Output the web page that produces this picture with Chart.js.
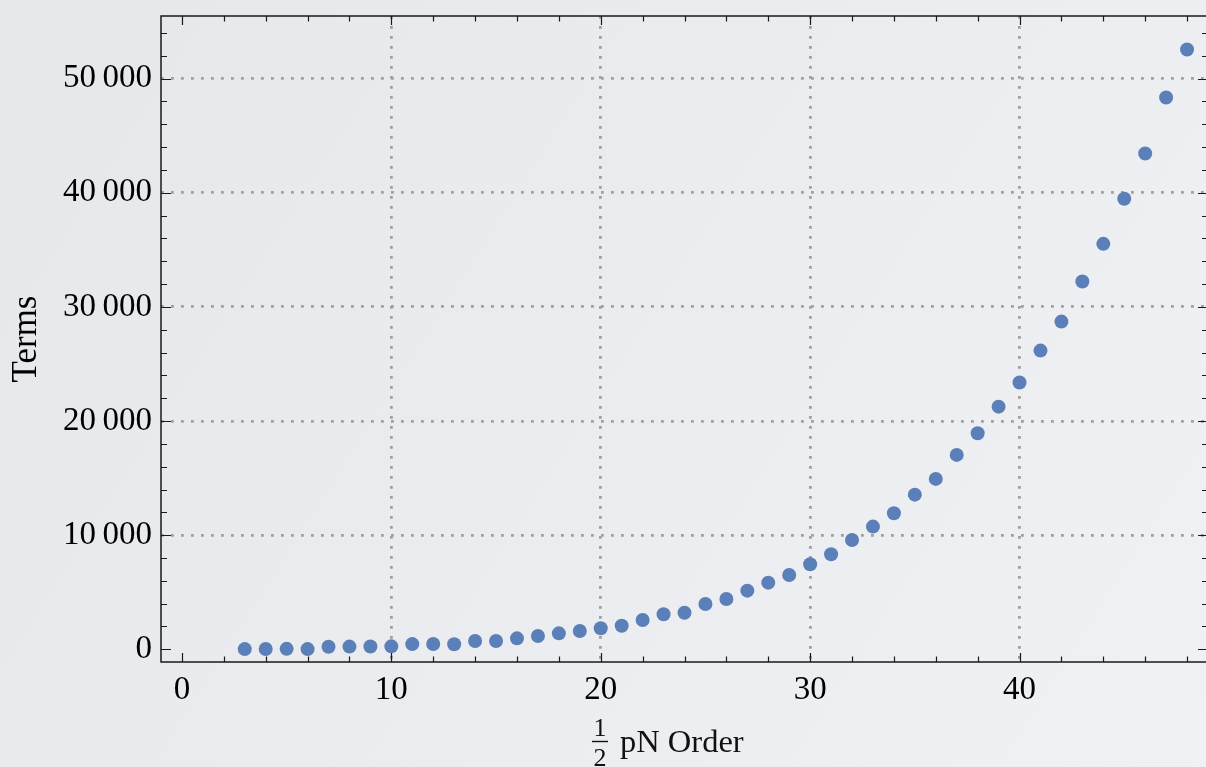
<!DOCTYPE html>
<html>
<head>
<meta charset="utf-8">
<script src="https://cdn.jsdelivr.net/npm/chart.js@4/dist/chart.umd.min.js"></script>
<style>
  html, body { margin: 0; padding: 0; overflow: hidden; background: #eaecef; width: 1206px; height: 767px; }
  #c { position: absolute; left: 0; top: 0; }
</style>
</head>
<body>
<canvas id="c" width="1208" height="767" style="width:1208px;height:767px"></canvas>
<script>
// ---- data ----
const xValues = [3,4,5,6,7,8,9,10,11,12,13,14,15,16,17,18,19,20,21,22,23,24,25,26,27,28,29,30,31,32,33,34,35,36,37,38,39,40,41,42,43,44,45,46,47,48];
const yValues = [20,30,40,20,230,240,250,260,460,470,440,730,730,960,1170,1400,1600,1840,2070,2570,3070,3210,3970,4410,5140,5840,6510,7450,8330,9580,10750,11920,13550,14930,17030,18930,21260,23370,26170,28710,32220,35520,39470,43440,48340,52550];
const xTickValues = [0,10,20,30,40];
const xTickLabels = ['0','10','20','30','40'];
const yTickValues = [0,10000,20000,30000,40000,50000];
const yTickLabels = ['0','10\u2009000','20\u2009000','30\u2009000','40\u2009000','50\u2009000'];
const yAxisTitle = 'Terms';
const xTitleNum = '1';
const xTitleDen = '2';
const xTitleText = 'pN Order';

const SERIF = '"Liberation Serif", "Times New Roman", serif';

const bgPlugin = {
  id: 'bg',
  beforeDraw(chart) {
    const ctx = chart.ctx;
    const g = ctx.createLinearGradient(0, 0, chart.width, chart.height);
    g.addColorStop(0, '#e5e7eb');
    g.addColorStop(1, '#f0f1f4');
    ctx.save();
    ctx.fillStyle = g;
    ctx.fillRect(0, 0, chart.width, chart.height);
    ctx.restore();
  }
};

const framePlugin = {
  id: 'frame',
  afterDraw(chart) {
    const ctx = chart.ctx;
    const a = chart.chartArea;
    const xs = chart.scales.x, ys = chart.scales.y;
    ctx.save();
    ctx.strokeStyle = '#1a1a1a';
    ctx.lineWidth = 1.5;
    ctx.strokeRect(a.left, a.top, a.right - a.left, a.bottom - a.top);
    ctx.lineWidth = 1.2;
    ctx.beginPath();
    for (let v = 0; v <= xs.max; v += 2) {
      const p = Math.round(xs.getPixelForValue(v)) + 0.5;
      const len = (v % 10 === 0) ? 9 : 5.5;
      ctx.moveTo(p, a.bottom); ctx.lineTo(p, a.bottom - len);
      ctx.moveTo(p, a.top); ctx.lineTo(p, a.top + len);
    }
    for (let v = 0; v <= ys.max; v += 2000) {
      const p = Math.round(ys.getPixelForValue(v)) + 0.5;
      const len = (v % 10000 === 0) ? 10 : 6;
      ctx.moveTo(a.left, p); ctx.lineTo(a.left + len, p);
      ctx.moveTo(a.right, p); ctx.lineTo(a.right - len, p);
    }
    ctx.stroke();

    // x axis title with stacked fraction
    ctx.fillStyle = '#111';
    ctx.strokeStyle = '#111';
    const fx = 600;
    ctx.font = '26px ' + SERIF;
    ctx.textAlign = 'center';
    ctx.textBaseline = 'alphabetic';
    ctx.fillText(xTitleNum, fx, 736);
    ctx.lineWidth = 1.4;
    ctx.beginPath();
    ctx.moveTo(fx - 8, 741.5); ctx.lineTo(fx + 8, 741.5);
    ctx.stroke();
    ctx.fillText(xTitleDen, fx, 766);
    ctx.font = '32.5px ' + SERIF;
    ctx.textAlign = 'left';
    ctx.fillText(xTitleText, 620, 752);
    ctx.restore();
  }
};

const gridColor = () => (c) => (c.tick && c.tick.value === 0) ? 'rgba(0,0,0,0)' : '#a0a0a0';
const noPad = (s) => { s.paddingTop = 0; s.paddingBottom = 0; s.paddingLeft = 0; s.paddingRight = 0; };

new Chart(document.getElementById('c'), {
  type: 'scatter',
  data: {
    datasets: [{
      data: xValues.map((x, i) => ({ x: x, y: yValues[i] })),
      backgroundColor: '#5b80b9',
      borderWidth: 0,
      pointRadius: 7,
      pointHoverRadius: 7,
      showLine: false
    }]
  },
  options: {
    responsive: false,
    maintainAspectRatio: false,
    devicePixelRatio: 1,
    animation: false,
    events: [],
    layout: { autoPadding: false, padding: { top: 16, left: 0, right: 0, bottom: 0 } },
    plugins: { legend: { display: false }, tooltip: { enabled: false } },
    scales: {
      x: {
        type: 'linear',
        min: -1.0,
        max: 49.0,
        afterBuildTicks: (s) => { s.ticks = xTickValues.map(v => ({ value: v })); },
        afterFit: (s) => { s.height = 105; noPad(s); },
        ticks: {
          padding: 9,
          color: '#000',
          font: { family: SERIF, size: 33 },
          maxRotation: 0,
          autoSkip: false,
          callback: (v) => { const i = xTickValues.indexOf(v); return i >= 0 ? xTickLabels[i] : ''; }
        },
        grid: {
          drawTicks: false,
          color: gridColor(),
          lineWidth: 2.8
        },
        border: { display: false, dash: [2.8, 7.2] }
      },
      y: {
        type: 'linear',
        min: -1110,
        max: 55480,
        afterBuildTicks: (s) => { s.ticks = yTickValues.map(v => ({ value: v })); },
        afterFit: (s) => { s.width = 161; noPad(s); },
        ticks: {
          padding: 9,
          color: '#000',
          font: { family: SERIF, size: 33 },
          autoSkip: false,
          callback: (v) => { const i = yTickValues.indexOf(v); return i >= 0 ? yTickLabels[i] : ''; }
        },
        grid: {
          drawTicks: false,
          color: gridColor(),
          lineWidth: 2.8
        },
        border: { display: false, dash: [2.8, 7.2] },
        title: {
          display: true,
          text: yAxisTitle,
          color: '#000',
          font: { family: SERIF, size: 35 },
          padding: { top: 6, bottom: 0 }
        }
      }
    }
  },
  plugins: [bgPlugin, framePlugin]
});
</script>
</body>
</html>
